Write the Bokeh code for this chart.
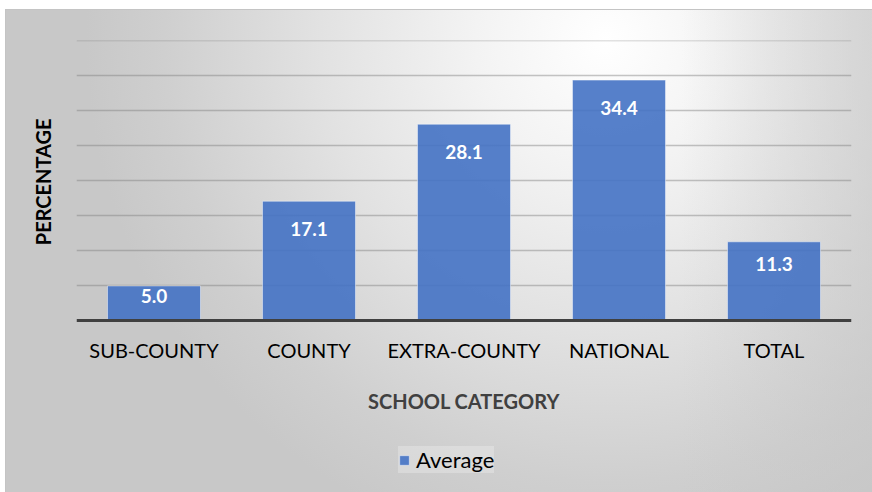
from bokeh.plotting import figure
from bokeh.models import (ColumnDataSource, FactorRange, Range1d, FixedTicker,
                          Legend, LegendItem, LabelSet, Title)
from bokeh.core.properties import value
from bokeh.embed import file_html
from bokeh.resources import INLINE
import numpy as np

categories = ["SUB-COUNTY", "COUNTY", "EXTRA-COUNTY", "NATIONAL", "TOTAL"]
averages = [5.0, 17.1, 28.1, 34.4, 11.3]
grid_ticks = [5, 10, 15, 20, 25, 30, 35, 40]
series_name = "Average"
y_title = "PERCENTAGE"
x_title = "SCHOOL CATEGORY"

FONT = "Lato"
FRAME_H = 452          # frame reaches the bottom of the window; axis drawn at y = 0
PX_PER_UNIT = 7.0
Y_END = 40.06
Y_START = Y_END - FRAME_H / PX_PER_UNIT

vals = np.array(averages)
src = ColumnDataSource(dict(
    cat=categories,
    val=averages,
    lbl=[f"{v:.1f}" for v in averages],
    off=list(-np.minimum(28.0, vals * 2.0)),
))

p = figure(x_range=FactorRange(*categories, range_padding=0),
           y_range=Range1d(Y_START, Y_END), output_backend="svg", toolbar_location=None,
           frame_width=775, frame_height=FRAME_H, y_axis_location=None,
           min_border_left=70, min_border_right=21, min_border_top=30, min_border_bottom=0)
p.margin = (10, 0, 0, 6)
p.styles = {
    "background": ("linear-gradient(to right, rgba(200,200,200,0) 78%, rgba(200,200,200,0.55) 100%), "
                   "radial-gradient(ellipse 520px 520px at 600px 30px, #ffffff 0%, #f3f3f3 25%, "
                   "#e2e2e2 55%, #cfcfcf 85%, #c8c8c8 100%)"),
    "outline": "1px solid #c4c4c4",
}
p.background_fill_alpha = 0
p.border_fill_alpha = 0
p.outline_line_color = None

r = p.vbar(x="cat", top="val", bottom=0, width=0.6, source=src, fill_color="#4472c4",
           fill_alpha=0.9, line_color="#ffffff", line_alpha=0.45, line_width=1)

labels = LabelSet(x="cat", y="val", text="lbl", y_offset="off", source=src,
                  text_align="center", text_baseline="middle", text_color="white",
                  text_font=value(FONT), text_font_style="bold", text_font_size="19px")
p.add_layout(labels)

p.xgrid.grid_line_color = None
p.ygrid.ticker = FixedTicker(ticks=grid_ticks)
p.ygrid.grid_line_color = "#7f7f7f"
p.ygrid.grid_line_alpha = 0.45
p.ygrid.grid_line_width = 1.6

xa = p.xaxis[0]
xa.fixed_location = 0
xa.axis_line_color = "#404040"
xa.axis_line_width = 3
xa.major_tick_line_color = None
xa.minor_tick_line_color = None
xa.major_label_text_font = FONT
xa.major_label_text_font_size = "20px"
xa.major_label_text_color = "#000000"
xa.major_label_standoff = 11
xa.axis_label = x_title
xa.axis_label_text_font = FONT
xa.axis_label_text_font_size = "20px"
xa.axis_label_text_font_style = "bold"
xa.axis_label_text_color = "#404040"
xa.axis_label_standoff = 24

ytitle = Title(text=y_title, align="right", offset=78, standoff=44,
               text_font=FONT, text_font_size="20px", text_font_style="bold",
               text_color="#000000")
p.add_layout(ytitle, "left")

legend = Legend(items=[LegendItem(label=series_name, renderers=[r])],
                location=(322, 19), orientation="horizontal",
                label_text_font=FONT, label_text_font_size="22px", label_text_color="#000000",
                glyph_width=12, glyph_height=12, padding=12, spacing=4, margin=0,
                background_fill_color="#ffffff", background_fill_alpha=0.25,
                border_line_color=None, label_standoff=6)
p.add_layout(legend, "center")

open("out.html", "w").write(file_html(p, INLINE))
